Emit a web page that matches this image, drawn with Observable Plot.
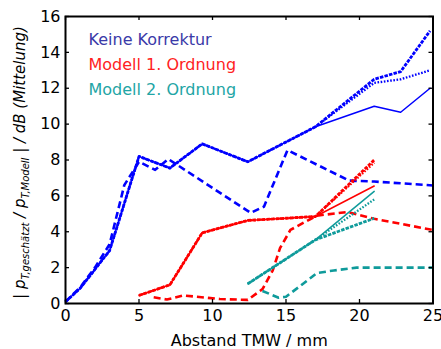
<!DOCTYPE html>
<html><head><meta charset="utf-8">
<script src="https://cdn.jsdelivr.net/npm/d3@7"></script>
<script src="https://cdn.jsdelivr.net/npm/@observablehq/plot@0.6"></script>
<style>body{margin:0;background:#fff;} #chart svg{display:block;}</style>
</head><body><div id="chart"></div>
<script>
// ---- data ----
const xTicks = [0, 5, 10, 15, 20, 25];
const yTicks = [0, 2, 4, 6, 8, 10, 12, 14, 16];
const legendLabels = ["Keine Korrektur", "Modell 1. Ordnung", "Modell 2. Ordnung"];
const legendColors = ["#3a3aa8", "#ff2222", "#22a5a5"];
const lineColors = ["#0000ff", "#ff0000", "#0f9b9b"];

// Keine Korrektur (blue)
const xBlue       = [0, 1, 2, 3, 5, 7.1, 9.3, 12.4, 17, 21, 22.8, 24.8];
const blueSolid   = [0.1, 0.85, 1.9, 2.95, 8.2, 7.55, 8.9, 7.9, 9.85, 11.0, 10.66, 12.0];
const blueDotted  = [0.1, 0.85, 1.9, 2.95, 8.2, 7.55, 8.9, 7.9, 9.85, 12.3, 12.5, 13.0];
const blueDense   = [0.1, 0.85, 1.9, 2.95, 8.2, 7.55, 8.9, 7.9, 9.85, 12.5, 12.93, 15.2];
const xBlueDashed = [0, 1, 2, 3, 4, 5, 6.1, 7, 12.6, 13.5, 15.1, 19.3, 21, 25];
const blueDashed  = [0.1, 0.9, 2.0, 3.3, 6.6, 7.9, 7.45, 8.05, 5.05, 5.4, 8.55, 6.85, 6.8, 6.58];

// Modell 1. Ordnung (red)
const xRed        = [5, 7.1, 9.3, 12.4, 17, 21];
const redSolid    = [0.45, 1.04, 3.94, 4.63, 4.85, 6.55];
const redDotted   = [0.45, 1.04, 3.94, 4.63, 4.85, 7.85];
const redDense    = [0.45, 1.04, 3.94, 4.63, 4.85, 8.0];
const xRedDashed  = [6, 6.9, 8, 10.5, 12.4, 13.4, 14.1, 14.6, 15.3, 16.3, 17.1, 19.2, 21, 25];
const redDashed   = [0.35, 0.22, 0.45, 0.25, 0.2, 0.8, 1.85, 3.1, 4.1, 4.55, 4.9, 5.1, 4.72, 4.1];

// Modell 2. Ordnung (teal)
const xTeal       = [12.4, 17, 21];
const tealSolid   = [1.1, 3.55, 6.25];
const tealDotted  = [1.1, 3.55, 5.8];
const tealDense   = [1.1, 3.55, 4.75];
const xTealDashed = [13.4, 14.5, 15, 16, 17.1, 18.25, 19.8, 25];
const tealDashed  = [0.7, 0.32, 0.38, 1.0, 1.7, 1.84, 2.0, 2.0];

// ---- styles ----
const styles = {
  solid:  {strokeWidth: 1.5},
  dotted: {strokeWidth: 2.3, strokeDasharray: "1.6,1.6", strokeLinecap: "butt"},
  dense:  {strokeWidth: 2.8, strokeDasharray: "3.5,1.2", strokeLinecap: "butt"},
  dashed: {strokeWidth: 2.6, strokeDasharray: "7,4", strokeLinecap: "butt"}
};
const rows = (xs, ys) => xs.map((x, i) => ({x, y: ys[i]}));
const series = [
  [xBlueDashed, blueDashed, 0, "dashed"],
  [xRedDashed, redDashed, 1, "dashed"],
  [xTealDashed, tealDashed, 2, "dashed"],
  [xBlue, blueSolid, 0, "solid"], [xBlue, blueDotted, 0, "dotted"], [xBlue, blueDense, 0, "dense"],
  [xRed, redSolid, 1, "solid"], [xRed, redDotted, 1, "dotted"], [xRed, redDense, 1, "dense"],
  [xTeal, tealSolid, 2, "solid"], [xTeal, tealDotted, 2, "dotted"], [xTeal, tealDense, 2, "dense"]
];

const font = "DejaVu Sans, Verdana, sans-serif";
const tickLen = 4;
const W = 441, H = 349, mL = 65, mR = 8.5, mT = 16, mB = 46;
const kx = (W - mL - mR) / 25, ky = (H - mT - mB) / 16;

const plot = Plot.plot({
  width: W, height: H,
  marginLeft: mL, marginRight: mR, marginTop: mT, marginBottom: mB,
  style: {fontFamily: font, fontSize: "16px", background: "#fff", overflow: "visible"},
  x: {domain: [0, 25]},
  y: {domain: [0, 16]},
  marks: [
    ...series.map(([xs, ys, c, s]) => Plot.line(rows(xs, ys), {x: "x", y: "y", stroke: lineColors[c], strokeLinejoin: "round", ...styles[s]})),
    // inward ticks on all four sides
    Plot.ruleX(xTicks, {x: d => d, y1: 0, y2: tickLen / ky, stroke: "black", strokeWidth: 1.3}),
    Plot.ruleX(xTicks, {x: d => d, y1: 16, y2: 16 - tickLen / ky, stroke: "black", strokeWidth: 1.3}),
    Plot.ruleY(yTicks, {y: d => d, x1: 0, x2: tickLen / kx, stroke: "black", strokeWidth: 1.3}),
    Plot.ruleY(yTicks, {y: d => d, x1: 25, x2: 25 - tickLen / kx, stroke: "black", strokeWidth: 1.3}),
    Plot.frame({stroke: "black", strokeWidth: 2}),
    Plot.axisX({ticks: xTicks, tickSize: 0, tickPadding: 6, tickFormat: d => String(d), fontSize: 16,
      label: "Abstand TMW / mm", labelAnchor: "center", labelArrow: "none", labelOffset: 42}),
    Plot.axisY({ticks: yTicks, tickSize: 0, tickPadding: 5, tickFormat: d => String(d), fontSize: 16, label: null}),
    ...legendLabels.map((t, i) => Plot.text([t], {text: d => d, frameAnchor: "top-left", dx: 23, dy: 17 + 25 * i,
      lineAnchor: "top", textAnchor: "start", fill: legendColors[i], fontSize: 16}))
  ]
});
document.getElementById("chart").appendChild(plot);

// rotated y-axis label with subscripts
const svg = d3.select(plot);
const lab = svg.append("text")
  .attr("transform", `translate(25,${(mT + H - mB) / 2 + 3}) rotate(-90)`)
  .attr("text-anchor", "middle")
  .attr("fill", "#000")
  .style("font-family", font)
  .style("font-size", "15px");
const parts = [
  ["| ", false, false], ["p", true, false], ["T,geschätzt", true, true],
  [" / ", true, false], ["p", true, false], ["T,Modell", true, true],
  [" | ", false, false], ["/ dB (Mittelung)", true, false]
];
let shifted = false;
parts.forEach(([t, it, sub]) => {
  const ts = lab.append("tspan").text(t).style("font-style", it ? "italic" : "normal");
  if (sub) { ts.style("font-size", "10px").attr("dy", shifted ? 0 : 4); shifted = true; }
  else { ts.attr("dy", shifted ? -4 : 0); shifted = false; }
});
</script></body></html>
